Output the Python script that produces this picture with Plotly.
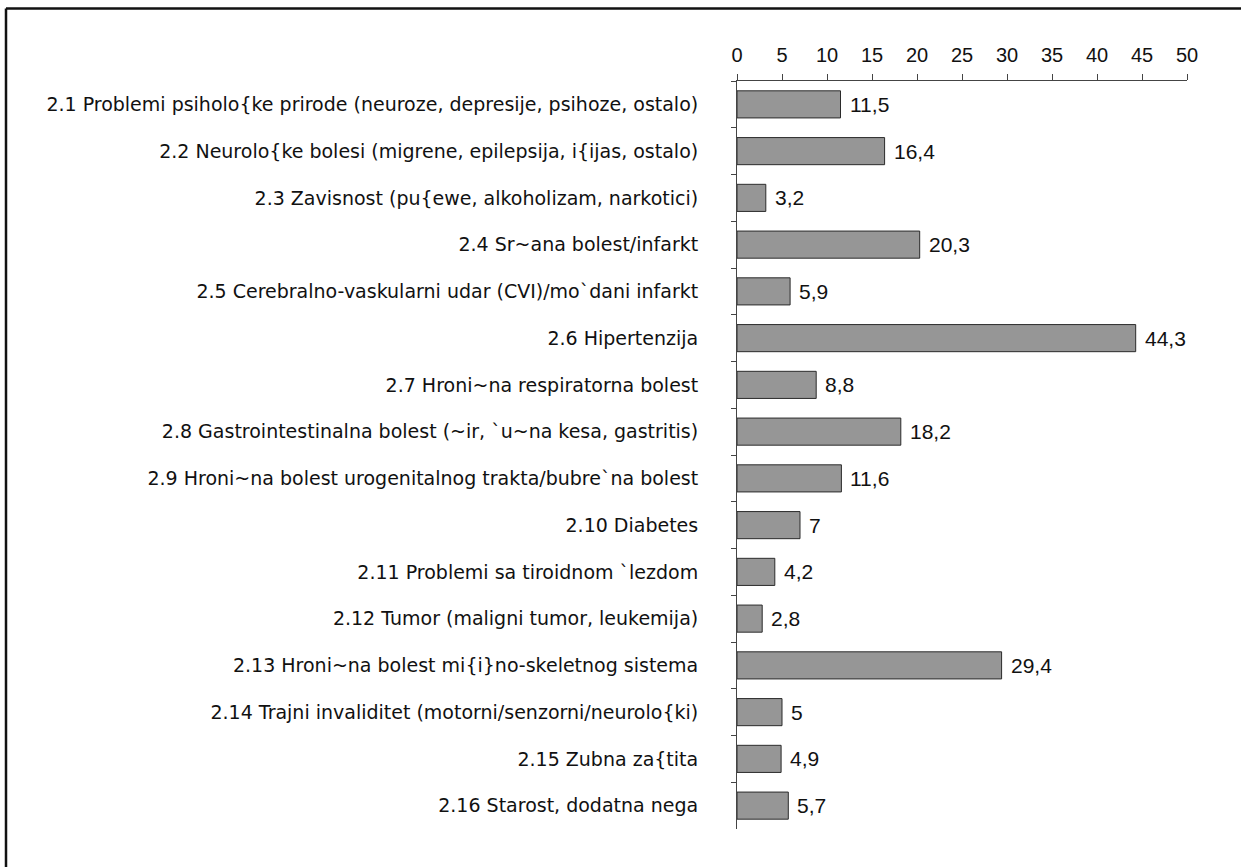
import plotly.graph_objects as go

categories = [
    "2.1 Problemi psiholo{ke prirode (neuroze, depresije, psihoze, ostalo)",
    "2.2 Neurolo{ke bolesi (migrene, epilepsija, i{ijas, ostalo)",
    "2.3 Zavisnost (pu{ewe, alkoholizam, narkotici)",
    "2.4 Sr~ana bolest/infarkt",
    "2.5 Cerebralno-vaskularni udar (CVI)/mo`dani infarkt",
    "2.6 Hipertenzija",
    "2.7 Hroni~na respiratorna bolest",
    "2.8 Gastrointestinalna bolest (~ir, `u~na kesa, gastritis)",
    "2.9 Hroni~na bolest urogenitalnog trakta/bubre`na bolest",
    "2.10 Diabetes",
    "2.11 Problemi sa tiroidnom `lezdom",
    "2.12 Tumor (maligni tumor, leukemija)",
    "2.13 Hroni~na bolest mi{i}no-skeletnog sistema",
    "2.14 Trajni invaliditet (motorni/senzorni/neurolo{ki)",
    "2.15 Zubna za{tita",
    "2.16 Starost, dodatna nega",
]
values = [11.5, 16.4, 3.2, 20.3, 5.9, 44.3, 8.8, 18.2, 11.6, 7, 4.2, 2.8, 29.4, 5, 4.9, 5.7]
x_ticks = [0, 5, 10, 15, 20, 25, 30, 35, 40, 45, 50]

def fmt(v):
    s = ("%g" % v)
    return s.replace(".", ",")

FONT = "Liberation Sans"
LABEL_FONT = "DejaVu Sans"

fig = go.Figure()
fig.add_trace(go.Bar(
    x=values, y=categories, orientation="h",
    marker=dict(color="#969696", line=dict(color="#2b2b2b", width=1)),
    width=0.58,
    hoverinfo="skip",
))

for c, v in zip(categories, values):
    fig.add_annotation(x=v, y=c, text=fmt(v), showarrow=False,
                       xanchor="left", yanchor="middle", xshift=7,
                       font=dict(family=FONT, size=21, color="#111"))

W, H = 1241, 867
L, R, T, B = 737, 54, 81, 38
pw, ph = W - L - R, H - T - B

def px(xp):
    return (xp - L) / pw

def py(yp):
    return (H - B - yp) / ph

# outer frame (left and top edges)
fig.add_shape(type="line", xref="paper", yref="paper",
              x0=px(6), x1=px(1245), y0=py(8.5), y1=py(8.5),
              line=dict(color="#111", width=2.5))
fig.add_shape(type="line", xref="paper", yref="paper",
              x0=px(6), x1=px(6), y0=py(8.5), y1=py(870),
              line=dict(color="#111", width=2.5))

fig.update_layout(
    width=W, height=H,
    margin=dict(l=L, r=R, t=T, b=B),
    paper_bgcolor="white", plot_bgcolor="white",
    showlegend=False,
    font=dict(family=FONT, size=19, color="#111"),
    xaxis=dict(
        range=[0, 50], side="top", tickvals=x_ticks,
        ticktext=[str(t) for t in x_ticks],
        showgrid=False, zeroline=False,
        showline=True, linecolor="#444", linewidth=1,
        ticks="outside", ticklen=6, tickcolor="#444",
        ticklabelstandoff=4,
        tickfont=dict(family=FONT, size=20, color="#111"),
    ),
    yaxis=dict(
        autorange="reversed", showgrid=False, zeroline=False,
        showline=True, linecolor="#444", linewidth=1,
        ticks="outside", ticklen=5, tickcolor="#444",
        tickson="boundaries", ticklabelstandoff=34,
        tickfont=dict(family=LABEL_FONT, size=19, color="#111"),
    ),
)

fig.write_html("out.html")
